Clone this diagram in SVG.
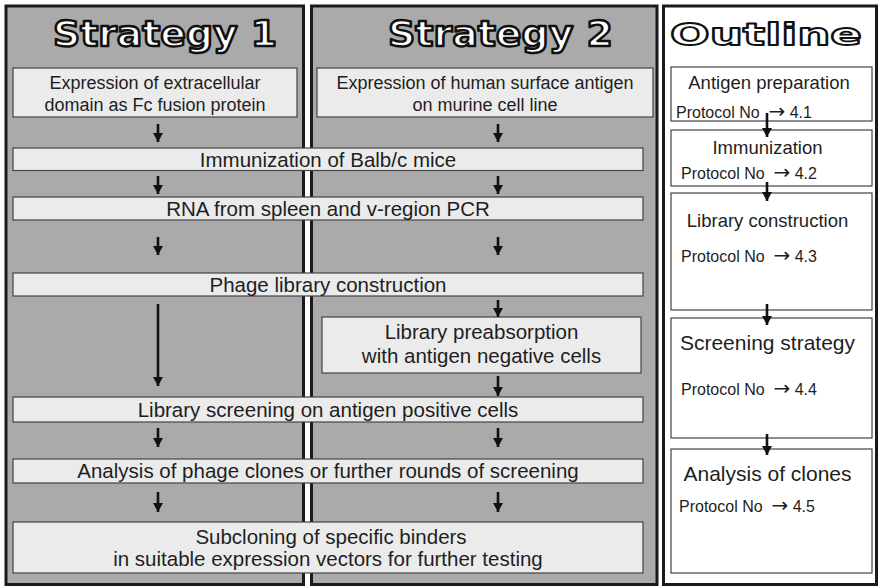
<svg xmlns="http://www.w3.org/2000/svg" width="879" height="587" viewBox="0 0 879 587">
<style>
.panel{fill:#aaaaaa;stroke:#1a1a1a;stroke-width:3}
.opanel{fill:#ffffff;stroke:#1a1a1a;stroke-width:3}
.box{fill:#ebebeb;stroke:#444;stroke-width:1.2}
.obox{fill:#ffffff;stroke:#444;stroke-width:1.2}
.title{font-family:"DejaVu Sans",sans-serif;font-weight:bold;font-size:35px;fill:#ffffff;stroke:#111;stroke-width:2.4;stroke-linejoin:round;text-anchor:middle}
.otitle{font-family:"DejaVu Sans",sans-serif;font-weight:bold;font-size:31px;fill:#ffffff;stroke:#111;stroke-width:1.8;stroke-linejoin:round;text-anchor:middle}
.t18{font-family:"Liberation Sans",Arial,sans-serif;font-size:18px;fill:#1e1e1e;text-anchor:middle}
.t20{font-family:"Liberation Sans",Arial,sans-serif;font-size:20.5px;fill:#1e1e1e;text-anchor:middle}
.oh{font-family:"Liberation Sans",Arial,sans-serif;font-size:18.5px;fill:#1e1e1e;text-anchor:middle}
.oh2{font-family:"Liberation Sans",Arial,sans-serif;font-size:21px;fill:#1e1e1e;text-anchor:middle}
.pr{font-family:"Liberation Sans",Arial,sans-serif;font-size:16px;fill:#1e1e1e}
.ar{font-family:"DejaVu Sans",sans-serif;font-size:20px}
.arr{stroke:#111;stroke-width:2.6;fill:none;marker-end:url(#ah)}
</style>
<defs>
<marker id="ah" viewBox="0 0 10 10" refX="10" refY="5" markerUnits="userSpaceOnUse" markerWidth="9" markerHeight="10" orient="auto" preserveAspectRatio="none">
<path d="M0,0 L10,5 L0,10 z" fill="#111"/>
</marker>
</defs>
<rect width="879" height="587" fill="#ffffff"/>

<g id="panel-strategy1">
<rect class="panel" x="6" y="6" width="297.5" height="578.5"/>
<text class="title" x="165" y="46" textLength="224" lengthAdjust="spacingAndGlyphs">Strategy 1</text>
</g>
<g id="panel-strategy2">
<rect class="panel" x="311.5" y="6" width="345.5" height="578.5"/>
<text class="title" x="500.5" y="46" textLength="225" lengthAdjust="spacingAndGlyphs">Strategy 2</text>
</g>
<g id="panel-outline">
<rect class="opanel" x="663.5" y="6" width="213" height="578.5"/>
<text class="otitle" x="766" y="45" textLength="192" lengthAdjust="spacingAndGlyphs">Outline</text>
</g>

<g id="s1-expression">
<rect class="box" x="13" y="68" width="284" height="49"/>
<text class="t18" x="155" y="88.5">Expression of extracellular</text>
<text class="t18" x="155" y="111">domain as Fc fusion protein</text>
</g>
<g id="s2-expression">
<rect class="box" x="317" y="68" width="336" height="49"/>
<text class="t18" x="485" y="88.5">Expression of human surface antigen</text>
<text class="t18" x="485" y="111">on murine cell line</text>
</g>
<g id="immunization">
<rect class="box" x="13" y="148" width="630" height="22.5"/>
<text class="t20" x="328" y="166.5">Immunization of Balb/c mice</text>
</g>
<g id="rna">
<rect class="box" x="13" y="197" width="630" height="23"/>
<text class="t20" x="328" y="216">RNA from spleen and v-region PCR</text>
</g>
<g id="phage-library">
<rect class="box" x="13" y="273" width="630" height="23"/>
<text class="t20" x="328" y="292">Phage library construction</text>
</g>
<g id="preabsorption">
<rect class="box" x="322" y="317" width="319" height="56"/>
<text class="t20" x="481.5" y="339">Library preabsorption</text>
<text class="t20" x="481.5" y="363">with antigen negative cells</text>
</g>
<g id="screening">
<rect class="box" x="13" y="397" width="630" height="25"/>
<text class="t20" x="328" y="417">Library screening on antigen positive cells</text>
</g>
<g id="analysis">
<rect class="box" x="13" y="459" width="630" height="24"/>
<text class="t20" x="328" y="478">Analysis of phage clones or further rounds of screening</text>
</g>
<g id="subcloning">
<rect class="box" x="13" y="522" width="630" height="51"/>
<text class="t20" x="331" y="543.5">Subcloning of specific binders</text>
<text class="t20" x="328" y="566">in suitable expression vectors for further testing</text>
</g>

<g id="o-antigen">
<rect class="obox" x="671" y="67" width="201" height="54"/>
<text class="oh" x="769" y="89">Antigen preparation</text>
<text class="pr" x="676" y="118" xml:space="preserve">Protocol No  <tspan class="ar">→</tspan> 4.1</text>
</g>
<g id="o-immunization">
<rect class="obox" x="671" y="130" width="201" height="56"/>
<text class="oh" x="767.5" y="154">Immunization</text>
<text class="pr" x="681" y="179" xml:space="preserve">Protocol No  <tspan class="ar">→</tspan> 4.2</text>
</g>
<g id="o-library">
<rect class="obox" x="671" y="193" width="201" height="117"/>
<text class="oh" x="767.5" y="227">Library construction</text>
<text class="pr" x="681" y="262" xml:space="preserve">Protocol No  <tspan class="ar">→</tspan> 4.3</text>
</g>
<g id="o-screening">
<rect class="obox" x="671" y="318" width="201" height="120"/>
<text class="oh2" x="767.5" y="350">Screening strategy</text>
<text class="pr" x="681" y="395" xml:space="preserve">Protocol No  <tspan class="ar">→</tspan> 4.4</text>
</g>
<g id="o-analysis">
<rect class="obox" x="671" y="449" width="201" height="124"/>
<text class="oh2" x="767.5" y="481">Analysis of clones</text>
<text class="pr" x="679" y="512" xml:space="preserve">Protocol No  <tspan class="ar">→</tspan> 4.5</text>
</g>

<g id="connectors">
<line class="arr" x1="158" y1="124" x2="158" y2="142"/>
<line class="arr" x1="158" y1="176" x2="158" y2="194"/>
<line class="arr" x1="158" y1="237" x2="158" y2="255"/>
<line class="arr" x1="158" y1="304" x2="158" y2="386"/>
<line class="arr" x1="158" y1="428" x2="158" y2="447"/>
<line class="arr" x1="158" y1="492" x2="158" y2="512"/>
<line class="arr" x1="498" y1="124" x2="498" y2="142"/>
<line class="arr" x1="498" y1="176" x2="498" y2="194"/>
<line class="arr" x1="498" y1="237" x2="498" y2="255"/>
<line class="arr" x1="498" y1="300" x2="498" y2="317"/>
<line class="arr" x1="498" y1="376" x2="498" y2="396"/>
<line class="arr" x1="498" y1="428" x2="498" y2="447"/>
<line class="arr" x1="498" y1="492" x2="498" y2="512"/>
<line class="arr" x1="767" y1="113" x2="767" y2="137"/>
<line class="arr" x1="767" y1="182" x2="767" y2="201"/>
<line class="arr" x1="767" y1="304" x2="767" y2="325"/>
<line class="arr" x1="767" y1="434" x2="767" y2="455"/>
</g>
</svg>
